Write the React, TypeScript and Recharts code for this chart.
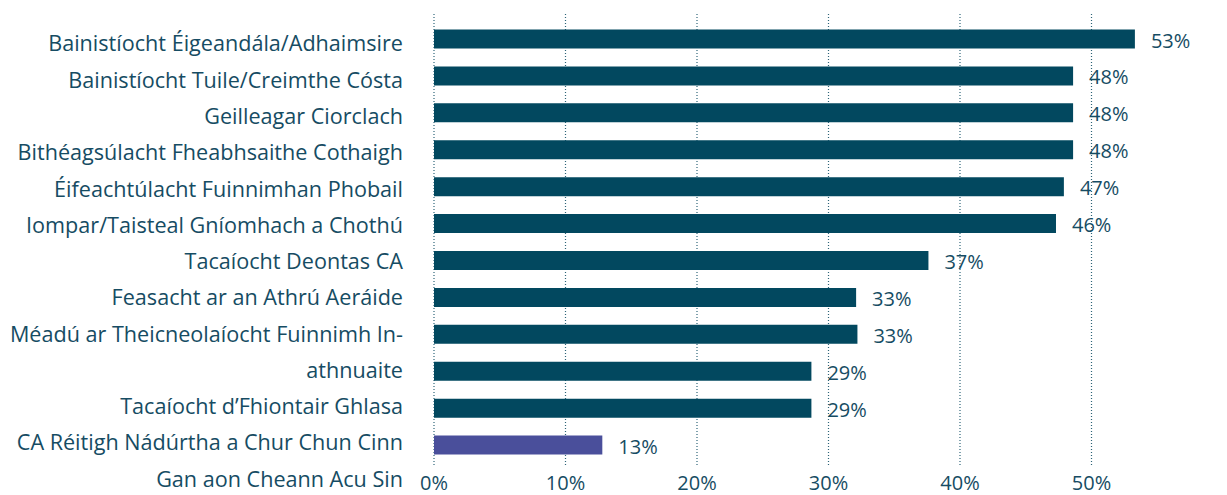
import React from 'react';
import {
  BarChart,
  Bar,
  XAxis,
  YAxis,
  CartesianGrid,
  Cell,
  LabelList,
} from 'recharts';

// Category names (one entry per bar). '\n' marks where the original label wraps.
const CATEGORIES = [
  'Bainistíocht Éigeandála/Adhaimsire',
  'Bainistíocht Tuile/Creimthe Cósta',
  'Geilleagar Ciorclach',
  'Bithéagsúlacht Fheabhsaithe Cothaigh',
  'Éifeachtúlacht Fuinnimhan Phobail',
  'Iompar/Taisteal Gníomhach a Chothú',
  'Tacaíocht Deontas CA',
  'Feasacht ar an Athrú Aeráide',
  'Méadú ar Theicneolaíocht Fuinnimh In-\nathnuaite',
  'Tacaíocht d’Fhiontair Ghlasa',
  'CA Réitigh Nádúrtha a Chur Chun Cinn',
  'Gan aon Cheann Acu Sin',
];

// Bar lengths (percent)
const VALUES = [53.3, 48.6, 48.6, 48.6, 47.9, 47.3, 37.6, 32.1, 32.2, 28.7, 28.7, 12.8];

// Printed value labels
const VALUE_LABELS = ['53%', '48%', '48%', '48%', '47%', '46%', '37%', '33%', '33%', '29%', '29%', '13%'];

const X_TICKS = [0, 10, 20, 30, 40, 50];

const BAR_COLOR = '#02485F';
const HIGHLIGHT_COLOR = '#4A4F9B';
const TEXT_COLOR = '#164C63';
const FONT = '"Open Sans", Lato, sans-serif';

const BAND = 36.9; // row height of the category axis
const LINE_HEIGHT = 36.25; // spacing of the label text block

const data = CATEGORIES.map((name, i) => ({
  name,
  value: VALUES[i],
  label: VALUE_LABELS[i],
}));

// number of text lines used by the labels before index i
const lineStart = (index: number) => {
  let n = 0;
  for (let k = 0; k < index; k++) n += CATEGORIES[k].split('\n').length;
  return n;
};

// Labels are laid out as one text block, so a wrapped label pushes the rest down
const CategoryTick = (props: any) => {
  const { x, y, payload } = props;
  const index = payload.index;
  const firstY = y - index * BAND;
  const start = lineStart(index);
  const lines = String(payload.value).split('\n');
  return (
    <g>
      {lines.map((line, j) => (
        <text
          key={j}
          x={x - 23}
          y={firstY + 4 + (start + j) * LINE_HEIGHT}
          textAnchor="end"
          dominantBaseline="central"
          fontFamily={FONT}
          fontSize={21.6}
          fill={TEXT_COLOR}
        >
          {line}
        </text>
      ))}
    </g>
  );
};

const ValueLabel = (props: any) => {
  const { x, y, width, height, index } = props;
  return (
    <text
      x={x + width + 16}
      y={y + height / 2 + 1}
      dominantBaseline="central"
      fontFamily={FONT}
      fontSize={20}
      fill={TEXT_COLOR}
    >
      {VALUE_LABELS[index]}
    </text>
  );
};

export default function App() {
  return (
    <div style={{ width: 1219, height: 487 }}>
      <BarChart
        width={1219}
        height={487}
        data={data}
        layout="vertical"
        margin={{ top: 6, right: 4, left: 0, bottom: 0 }}
        barCategoryGap={0}
      >
        <CartesianGrid
          horizontal={false}
          stroke="#2E6478"
          strokeDasharray="1 2"
          strokeWidth={1.2}
        />
        <XAxis
          type="number"
          domain={[0, 60]}
          ticks={X_TICKS}
          tickFormatter={(v) => `${v}%`}
          axisLine={false}
          tickLine={false}
          height={28}
          tickMargin={3}
          tick={{ fontSize: 20, fill: TEXT_COLOR, fontFamily: FONT }}
        />
        <YAxis
          type="category"
          dataKey="name"
          width={426}
          axisLine={false}
          tickLine={false}
          interval={0}
          padding={{ top: 6.5, bottom: 3.5 }}
          tick={<CategoryTick />}
        />
        <Bar dataKey="value" barSize={19} isAnimationActive={false}>
          {data.map((d, i) => (
            <Cell key={d.name} fill={i === data.length - 1 ? HIGHLIGHT_COLOR : BAR_COLOR} />
          ))}
          <LabelList dataKey="label" content={<ValueLabel />} />
        </Bar>
      </BarChart>
    </div>
  );
}
